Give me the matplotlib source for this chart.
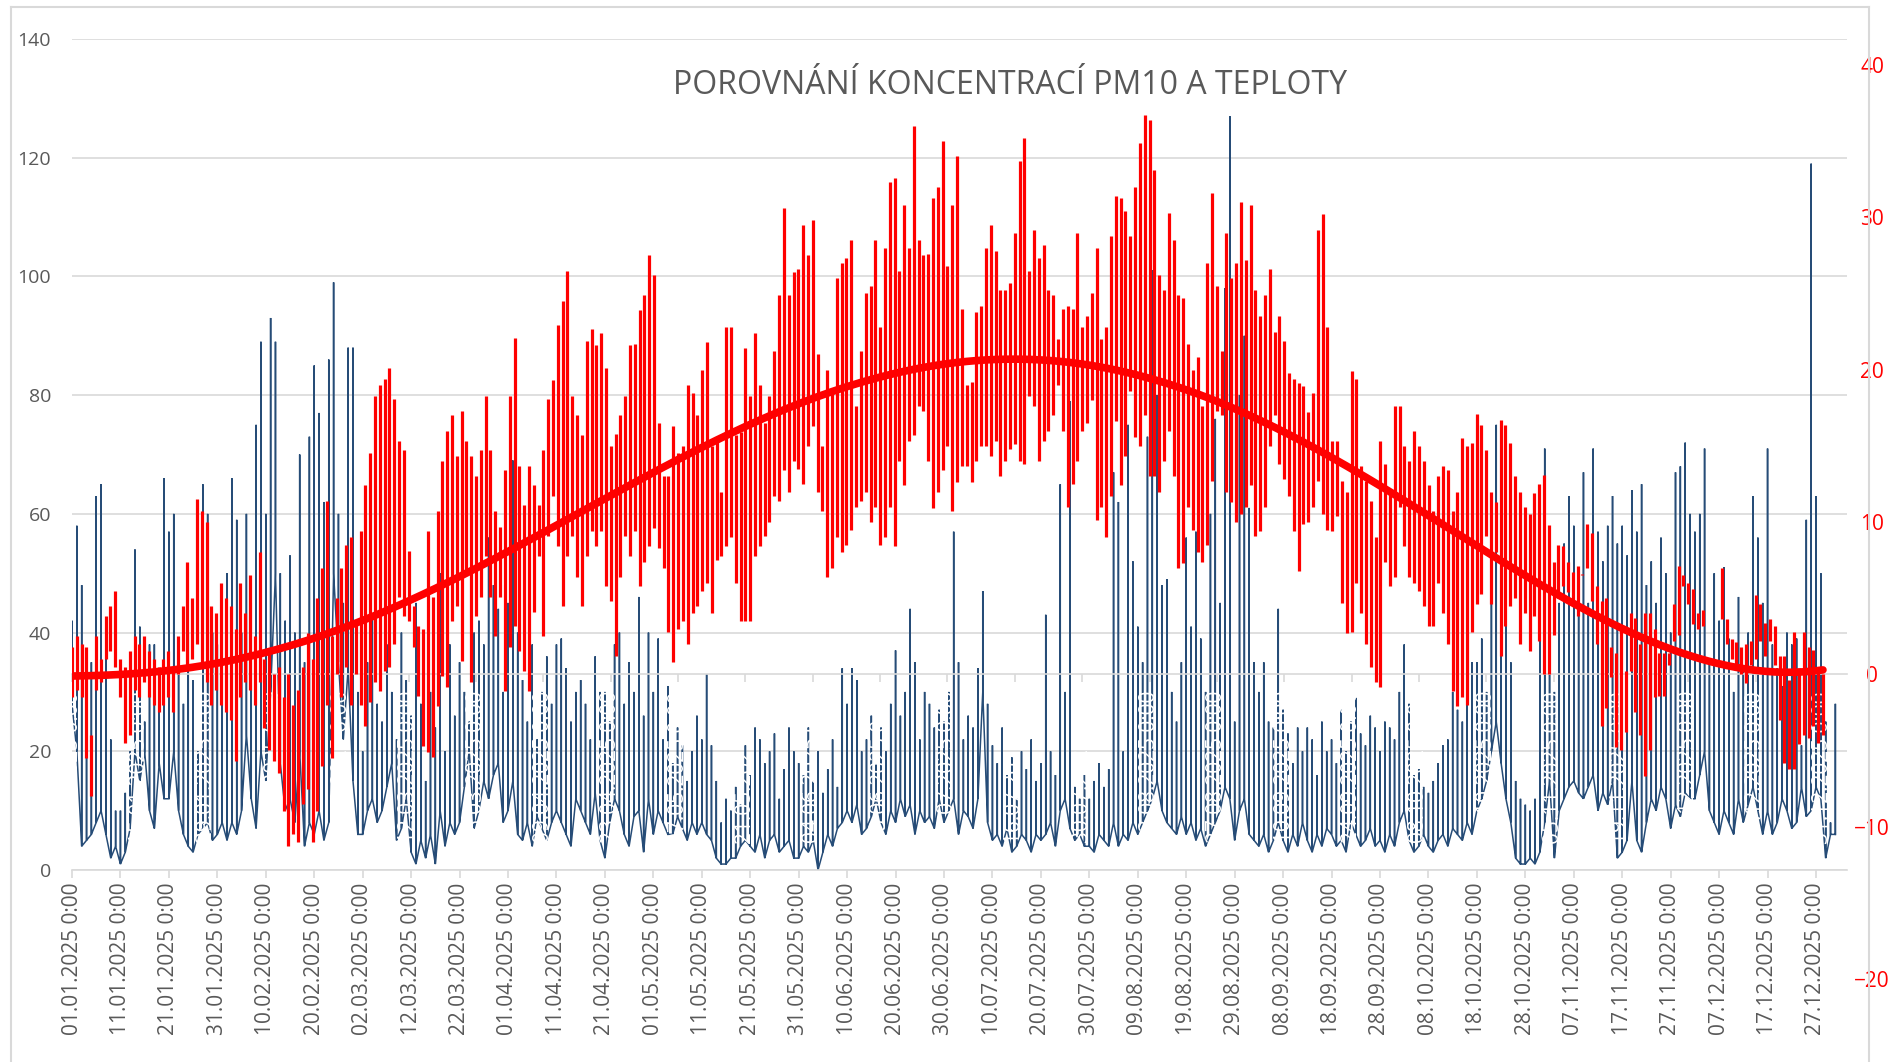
import numpy as np
import matplotlib
matplotlib.use("Agg")
import matplotlib.pyplot as plt
from matplotlib.lines import Line2D
import datetime as dt

plt.rcParams['font.family'] = ['Open Sans', 'DejaVu Sans']

########################################
# DATA (daily min / max)
########################################
start = dt.date(2025, 1, 1)
nan = np.nan

# temperature, daily max (C)
t_hi = [
    1.8, 2.5, 2.0, 1.8, -4.0, 2.5, 1.0, 3.8, 4.5, 5.5,
    1.0, 0.5, 1.5, 2.5, 2.0, 2.5, 1.5, 1.0, 0.5, 1.0,
    1.5, 0.5, 2.5, 4.5, 7.4, 5.0, 11.5, 10.7, 10.0, 4.5,
    4.0, 6.0, 5.0, 4.5, 3.0, 6.0, 4.0, 6.5, 2.5, 8.0,
    1.0, 1.5, 0.0, 0.5, -1.5, 0.0, -2.0, -1.0, 0.5, 2.7,
    1.0, 5.0, 7.0, 11.4, 2.5, 5.0, 7.0, 8.5, 9.0, 3.5,
    9.4, 12.4, 14.5, 18.3, 19.0, 19.4, 20.1, 18.1, 15.3, 14.7,
    8.1, 4.5, 3.2, 3.0, 9.4, 5.1, 10.7, 14.0, 16.0, 17.0,
    14.3, 17.3, 15.3, 14.3, 13.0, 14.7, 18.3, 14.7, 10.7, 9.7,
    13.4, 18.3, 22.1, 13.7, 11.1, 13.7, 12.4, 11.1, 14.7, 18.1,
    19.3, 22.9, 24.5, 26.5, 18.3, 17.0, 15.7, 21.9, 22.7, 21.6,
    22.4, 20.1, 15.0, 15.8, 17.0, 18.3, 21.6, 21.7, 23.9, 24.9,
    27.5, 26.2, 16.5, 13.0, 13.0, 16.3, 14.5, 15.0, 19.0, 18.5,
    17.0, 20.0, 21.8, 15.0, 15.5, 12.0, 22.8, 22.8, 15.7, 15.9,
    21.4, 18.3, 22.4, 19.0, 16.5, 18.3, 21.2, 24.9, 30.6, 24.9,
    26.4, 26.6, 29.5, 27.5, 29.8, 21.0, 15.0, 20.0, 18.5, 26.0,
    27.0, 27.3, 28.5, 17.6, 21.2, 25.0, 25.5, 28.5, 22.8, 28.0,
    32.3, 32.6, 26.5, 30.8, 28.0, 36.0, 28.5, 27.5, 27.6, 31.3,
    32.0, 35.0, 26.8, 30.8, 34.0, 24.0, 19.0, 19.2, 23.8, 24.2,
    28.0, 29.5, 27.8, 25.2, 25.2, 25.7, 29.0, 33.7, 35.2, 26.5,
    29.2, 27.3, 28.2, 25.2, 24.9, 22.0, 24.0, 24.2, 24.0, 29.0,
    22.8, 23.5, 25.0, 28.0, 22.0, 22.8, 28.8, 31.4, 31.3, 30.4,
    28.8, 32.0, 34.9, 36.7, 36.4, 33.1, 26.2, 25.2, 30.3, 28.5,
    24.9, 24.7, 21.7, 20.0, 20.8, 17.6, 27.0, 31.6, 25.5, 21.2,
    29.0, 26.0, 27.0, 31.0, 27.2, 30.8, 25.2, 23.5, 24.9, 26.6,
    22.5, 23.5, 21.9, 19.8, 19.4, 19.1, 18.9, 17.2, 18.5, 29.2,
    30.2, 22.8, 15.3, 15.3, 12.7, 12.0, 19.9, 19.4, 13.7, 12.7,
    11.4, 9.0, 15.3, 13.8, 12.0, 17.6, 17.6, 15.0, 14.0, 16.0,
    15.0, 14.0, 12.4, 10.7, 13.0, 13.7, 13.4, 10.7, 12.0, 15.5,
    15.0, 15.2, 17.1, 16.4, 14.7, 12.0, 11.3, 16.7, 16.4, 15.2,
    13.0, 12.0, 11.0, 10.5, 11.9, 12.5, 13.1, 9.8, 7.4, 8.5,
    8.4, 7.4, 6.7, 7.1, 6.5, 9.9, 9.3, 5.8, 4.8, 5.0,
    1.8, 1.4, 3.0, 0.2, 4.0, 3.7, 2.0, 4.0, 4.0, 3.0,
    1.4, 1.4, 1.4, 4.6, 7.1, 6.5, 6.0, 5.6, 4.0, 4.2,
    nan, nan, nan, 7.0, 3.6, 2.3, 2.1, 1.8, 2.0, 2.2,
    5.2, 4.6, 3.4, 3.6, 3.2, 1.2, 1.2, -0.4, 2.8, 0.4,
    2.8, 1.8, 1.6, 0.5, 0.0,
]

# temperature, daily min (C)
t_lo = [
    -1.5, -1.0, -1.5, -5.5, -8.0, -1.0, -0.5, 1.0, 1.5, 0.5,
    -1.5, -4.5, -4.0, -1.0, -1.5, -0.5, -1.5, -2.0, -2.5, -2.0,
    -1.5, -2.5, 0.0, 1.5, 0.5, 1.0, 2.0, 0.5, -0.5, -2.0,
    -1.0, -2.0, -2.5, -3.0, -5.7, -1.5, -0.5, -1.0, -2.0, -0.5,
    -3.5, -5.0, -5.7, -6.5, -9.0, -11.3, -10.5, -11.0, -8.5, -7.5,
    -11.0, -9.0, -6.0, -2.0, -5.5, 0.0, -1.5, 0.5, -2.0, 0.0,
    -2.0, -3.4, -1.8, -0.5, -1.1, 0.2, 0.5, 2.0, 5.1, 3.8,
    3.5, 1.8, -1.4, -4.7, -5.1, -5.4, -2.1, -0.1, -0.8, 3.5,
    4.5, 0.9, 6.8, -0.5, 3.8, 5.1, 7.8, 5.1, 2.5, 5.1,
    -1.1, 1.8, 3.2, 1.5, 0.2, -1.1, 4.1, 7.8, 2.5, 9.1,
    11.7, 8.4, 4.5, 7.8, 9.1, 6.4, 4.5, 7.8, 9.4, 8.4,
    9.4, 5.8, 4.8, 1.2, 6.4, 9.1, 7.8, 9.4, 5.8, 7.4,
    8.4, 9.6, 8.3, 7.0, 2.8, 0.8, 3.0, 3.5, 2.0, 4.0,
    4.5, 5.5, 6.0, 4.0, 7.5, 7.8, 8.4, 9.0, 6.0, 3.5,
    3.5, 3.5, 7.8, 8.4, 9.1, 10.0, 11.7, 11.4, 13.4, 12.0,
    14.0, 13.5, 12.5, 15.0, 16.3, 12.0, 10.7, 6.4, 7.0, 9.0,
    8.0, 8.5, 9.5, 11.0, 11.4, 12.0, 10.0, 11.0, 8.5, 9.0,
    11.0, 8.4, 14.0, 12.4, 15.3, 15.7, 17.6, 17.3, 14.0, 10.9,
    12.0, 13.4, 15.0, 10.7, 12.6, 13.7, 13.7, 12.6, 14.0, 15.0,
    15.0, 14.3, 15.3, 13.0, 14.0, 14.8, 15.1, 14.0, 13.8, 18.3,
    17.6, 14.0, 15.3, 16.0, 17.0, 19.0, 16.0, 11.0, 12.5, 14.0,
    16.0, 16.5, 18.0, 10.1, 11.0, 9.0, 11.7, 16.6, 12.4, 14.3,
    18.6, 15.6, 15.0, 17.0, 13.0, 13.0, 12.0, 14.0, 16.0, 13.0,
    7.0, 7.3, 11.0, 9.5, 8.0, 7.4, 8.5, 12.7, 17.3, 17.0,
    12.0, 11.3, 10.0, 10.5, 11.0, 12.4, 9.1, 9.4, 11.0, 15.0,
    17.0, 13.8, 12.8, 11.7, 9.4, 6.8, 9.9, 10.0, 11.0, 12.7,
    10.5, 9.5, 9.4, 10.4, 4.7, 2.7, 2.8, 6.0, 4.0, 2.0,
    0.5, -0.5, -0.8, 7.4, 5.8, 6.4, 11.0, 8.4, 6.4, 6.0,
    5.5, 4.5, 3.2, 3.2, 6.0, 4.0, 2.0, -1.1, -2.1, -1.5,
    -2.0, 2.8, 4.6, 5.3, 9.1, 4.6, 8.0, 1.2, 3.2, 4.5,
    5.0, 2.0, 4.0, 1.5, 3.8, 2.2, 0.0, 0.0, 2.6, 5.0,
    5.8, 5.4, 4.6, 3.8, 6.6, 7.0, 4.8, 2.0, -3.4, -2.2,
    -0.2, -4.8, -5.0, -3.8, 0.2, -2.5, -4.0, -6.7, -5.0, -1.5,
    -1.4, -1.4, 0.6, 2.2, 2.6, 5.8, 4.6, 3.3, 3.0, 3.2,
    nan, nan, nan, 3.6, 2.0, 1.0, 0.6, 0.0, -0.6, 0.6,
    1.0, 2.2, 1.2, 2.2, 0.6, -3.0, -5.8, -6.2, -6.2, -4.6,
    -4.0, -4.2, -3.4, -4.5, -4.0,
]

# PM10, daily max (ug/m3)
pm_hi = [
    42, 58, 48, 30, 35, 63, 65, 40, 22, 10,
    10, 13, 20, 54, 41, 25, 38, 38, 30, 66,
    57, 60, 35, 28, 40, 32, 20, 65, 60, 40,
    38, 45, 50, 66, 59, 40, 60, 45, 75, 89,
    60, 93, 89, 50, 42, 53, 40, 70, 35, 73,
    85, 77, 62, 86, 99, 60, 45, 88, 88, 30,
    20, 35, 43, 28, 25, 38, 30, 22, 40, 32,
    26, 45, 28, 15, 30, 24, 50, 20, 38, 26,
    35, 30, 25, 40, 42, 38, 56, 48, 44, 30,
    45, 69, 40, 32, 25, 38, 22, 30, 36, 28,
    38, 39, 34, 25, 30, 32, 28, 22, 36, 30,
    30, 25, 38, 40, 28, 35, 30, 46, 26, 40,
    30, 39, 22, 31, 18, 24, 21, 15, 20, 26,
    22, 33, 21, 15, 8, 12, 10, 14, 11, 21,
    16, 24, 22, 18, 20, 23, 12, 17, 24, 20,
    18, 16, 24, 15, 20, 13, 17, 22, 14, 34,
    28, 34, 32, 20, 22, 26, 18, 24, 20, 28,
    37, 26, 30, 44, 35, 22, 30, 28, 24, 27,
    25, 30, 57, 35, 22, 26, 24, 34, 47, 28,
    21, 18, 24, 16, 19, 12, 20, 17, 22, 15,
    18, 43, 20, 16, 65, 30, 79, 14, 12, 16,
    12, 15, 18, 14, 17, 67, 62, 20, 75, 52,
    41, 35, 73, 101, 80, 48, 49, 30, 25, 35,
    56, 41, 57, 39, 30, 60, 76, 45, 98, 127,
    25, 80, 90, 61, 35, 30, 35, 25, 24, 44,
    27, 23, 18, 24, 20, 24, 22, 16, 25, 20,
    22, 18, 27, 20, 25, 29, 23, 21, 26, 24,
    20, 25, 24, 22, 30, 38, 28, 16, 17, 14,
    13, 15, 18, 21, 22, 30, 27, 25, 41, 35,
    35, 39, 30, 45, 75, 55, 47, 35, 15, 12,
    11, 10, 12, 49, 71, 50, 30, 45, 55, 63,
    58, 50, 67, 45, 71, 57, 52, 58, 63, 55,
    58, 53, 64, 57, 65, 48, 52, 45, 56, 50,
    40, 67, 68, 72, 60, 57, 60, 71, 35, 50,
    42, 51, 39, 30, 46, 34, 40, 63, 56, 45,
    71, 38, 34, 31, 40, 38, 39, 21, 59, 119,
    63, 50, 25, 8, 28,
]

# PM10, daily min (ug/m3)
pm_lo = [
    28, 20, 4, 5, 6, 8, 10, 6, 2, 4,
    1, 3, 7, 20, 15, 20, 10, 7, 18, 12,
    12, 20, 10, 6, 4, 3, 6, 7, 8, 5,
    6, 8, 5, 8, 6, 10, 23, 12, 7, 20,
    15, 30, 50, 18, 10, 12, 8, 20, 4, 8,
    6, 10, 5, 8, 50, 35, 22, 34, 15, 6,
    6, 10, 12, 8, 10, 14, 18, 5, 7, 12,
    3, 1, 5, 2, 6, 1, 10, 4, 8, 6,
    8, 14, 20, 7, 10, 15, 12, 16, 18, 8,
    10, 15, 6, 5, 8, 4, 9, 7, 5, 8,
    10, 8, 6, 4, 12, 10, 8, 6, 13, 5,
    2, 8, 12, 10, 6, 4, 9, 10, 3, 12,
    6, 10, 8, 6, 6, 9, 7, 5, 8, 6,
    8, 6, 5, 2, 1, 1, 2, 2, 4, 5,
    4, 3, 6, 2, 5, 6, 3, 4, 5, 2,
    2, 4, 3, 5, 0, 3, 6, 4, 7, 8,
    10, 8, 11, 6, 7, 9, 12, 8, 6, 10,
    8, 12, 9, 11, 6, 10, 8, 9, 7, 12,
    8, 10, 12, 6, 10, 9, 7, 12, 30, 8,
    5, 6, 4, 7, 3, 4, 6, 5, 3, 6,
    5, 6, 8, 4, 10, 12, 7, 5, 6, 4,
    4, 3, 6, 5, 4, 8, 4, 6, 5, 8,
    6, 8, 10, 12, 15, 10, 8, 7, 6, 9,
    6, 8, 5, 7, 4, 6, 8, 10, 14, 12,
    5, 10, 12, 6, 5, 4, 6, 3, 5, 8,
    5, 3, 6, 4, 8, 5, 3, 6, 4, 7,
    6, 4, 5, 3, 8, 6, 4, 5, 7, 4,
    5, 3, 6, 4, 8, 10, 5, 3, 4, 6,
    4, 3, 5, 6, 4, 7, 6, 5, 8, 6,
    10, 12, 15, 20, 25, 18, 12, 8, 2, 1,
    1, 2, 1, 3, 8, 15, 2, 10, 12, 14,
    15, 13, 12, 14, 16, 10, 13, 11, 15, 2,
    3, 5, 15, 5, 3, 8, 12, 10, 14, 12,
    7, 11, 9, 13, 12, 12, 16, 20, 10, 8,
    6, 10, 8, 6, 12, 8, 11, 14, 10, 6,
    10, 6, 8, 12, 10, 7, 8, 14, 9, 10,
    14, 12, 2, 6, 6,
]

title = "POROVNÁNÍ KONCENTRACÍ PM10 A TEPLOTY"

GRAY_TXT = "#595959"
GRID = "#D9D9D9"
BLUE = "#264C77"
RED = "#FF0000"

W, H = 1902, 1062


def low_path(lo, hi):
    # all hourly values of one day share one x position (Excel date axis):
    # each day is a vertical stroke min -> max, days joined near the bottom
    xs, ys = [], []
    for i, (a, b) in enumerate(zip(lo, hi)):
        xs += [i, i, i]
        ys += [a, b, a]
    return np.array(xs, float), np.array(ys, float)


def fx(px):
    return px / W


def fy(py):
    return 1 - py / H


fig = plt.figure(figsize=(W / 100, H / 100), dpi=100)

########################################
# PM10 chart (primary)
########################################
ax = fig.add_axes([fx(72), fy(870), fx(1847) - fx(72), fy(39) - fy(870)])
ax.set_xlim(0, 366.4)
ax.set_ylim(0, 140)
ax.set_yticks(np.arange(0, 141, 20))
ax.grid(axis="y", color=GRID, lw=1.2)
ax.set_axisbelow(True)
for s in ("top", "right", "left"):
    ax.spines[s].set_visible(False)
ax.spines["bottom"].set_color(GRID)
ax.spines["bottom"].set_linewidth(1.2)
ax.tick_params(axis="y", length=0, pad=15, labelsize=14, labelcolor=GRAY_TXT)

ticks = np.arange(0, 365, 10)
ax.set_xticks(ticks)
ax.set_xticklabels([(start + dt.timedelta(days=int(d))).strftime("%d.%m.%Y") + " 0:00"
                    for d in ticks], rotation=90, fontsize=15, color=GRAY_TXT)
ax.tick_params(axis="x", length=6, width=1.2, color=GRID, pad=3)

px, py = low_path(pm_lo, pm_hi)
ax.plot(px, py, color=BLUE, lw=1.1, solid_joinstyle="miter")

########################################
# temperature chart (overlaid, transparent)
########################################
ax2 = fig.add_axes([fx(72), fy(979), fx(1847) - fx(72), fy(65) - fy(979)])
ax2.patch.set_alpha(0)
ax2.set_xlim(0, 369)
ax2.set_ylim(-20, 40)
for s in ("top", "left", "right"):
    ax2.spines[s].set_visible(False)
ax2.spines["bottom"].set_position(("data", 0))
ax2.spines["bottom"].set_color(GRID)
ax2.spines["bottom"].set_linewidth(1.2)
ax2.yaxis.tick_right()
ax2.set_yticks(np.arange(-20, 41, 10))
ax2.tick_params(axis="y", length=0, pad=18, labelsize=15, labelcolor=RED)
for lab in ax2.get_yticklabels():
    lab.set_horizontalalignment("center")

wt = np.arange(0, 365, 14)
ax2.set_xticks(wt)
ax2.set_xticklabels([(start + dt.timedelta(days=int(d))).strftime("%d.%m.%Y") + " 0:00"
                     for d in wt], rotation=90, fontsize=15, color="white")
ax2.tick_params(axis="x", length=6, width=1.2, color=GRID, pad=6)
for lab in ax2.get_xticklabels():
    lab.set_zorder(10)

days = np.arange(len(t_hi))
ax2.vlines(days, t_lo, t_hi, color=RED, lw=2.3, zorder=3)

# polynomial trend line like Excel's
mid = (np.array(t_hi) + np.array(t_lo)) / 2
ok = np.isfinite(mid)
coef = np.polyfit(days[ok] / 365.0, mid[ok], 6)
ax2.plot(days, np.polyval(coef, days / 365.0), color=RED, lw=5.5,
         solid_capstyle="round", zorder=4)

########################################
# title, frame
########################################
fig.text(fx(1010), fy(85), title, ha="center", va="center",
         fontsize=23, color=GRAY_TXT)

for xs, ys in (([11, 11], [1062, 7]), ([11, 1869], [7, 7]), ([1869, 1869], [7, 1062])):
    fig.add_artist(Line2D([fx(x) for x in xs], [fy(y) for y in ys],
                          color=GRID, lw=1.5))

fig.savefig("out.png", dpi=100)
